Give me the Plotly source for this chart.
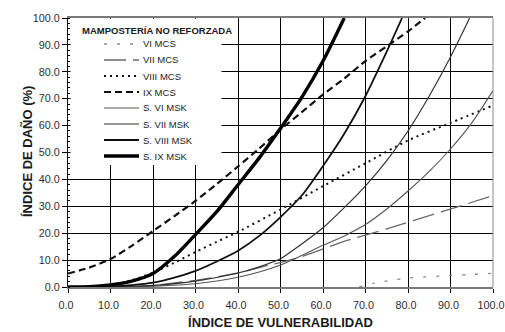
import plotly.graph_objects as go

# ---------------- data ----------------
x_ticks = [0, 10, 20, 30, 40, 50, 60, 70, 80, 90, 100]
y_ticks = [0, 10, 20, 30, 40, 50, 60, 70, 80, 90, 100]

vi_mcs_x = [68.5, 72, 76, 80, 88, 94, 100]
vi_mcs_y = [0, 1.4, 2.5, 3.3, 4.1, 4.6, 5.1]

vii_mcs_x = [15, 20, 30, 40, 45, 55, 65.6, 75, 88, 100]
vii_mcs_y = [0, 0.6, 2.5, 5.2, 7.2, 11.3, 17.3, 21.6, 28, 34]

viii_mcs_x = [7, 10, 15, 20, 25, 30, 35, 40, 50, 60, 70, 80, 90, 100]
viii_mcs_y = [0, 0.6, 2.5, 5.3, 9, 13, 16.8, 20.5, 28.8, 37.5, 46, 54.5, 61, 67.5]

ix_mcs_x = [0, 5, 10, 15, 20, 25, 30, 35, 40, 45, 50, 55, 60, 65, 70, 75, 80, 84]
ix_mcs_y = [5, 7.2, 10.4, 15.3, 20.8, 26.3, 32, 38.3, 44.8, 51.5, 58.5, 65, 71.5, 77.5, 84, 89.5, 95, 100]

s_vi_x = [10, 20, 30, 40, 50, 60, 65, 70, 75, 80, 85, 90, 95, 100]
s_vi_y = [0, 0.3, 1.2, 3.6, 8.2, 15.5, 19, 23.2, 29, 35.7, 43, 51.3, 61, 73]

s_vii_x = [10, 20, 30, 40, 45, 50, 55, 60, 65, 70, 75, 80, 85, 90, 94.5]
s_vii_y = [0, 0.6, 2.2, 5.2, 7.5, 10.5, 16, 22, 29.5, 37.6, 47, 58, 71, 85.5, 100]

s_viii_x = [5, 10, 15, 20, 25, 30, 35, 40, 45, 50, 55, 60, 65, 70, 75, 78.6]
s_viii_y = [0, 0.2, 0.7, 1.6, 3.5, 6, 9.5, 13.5, 19, 26, 34, 45, 57, 71, 87.5, 100]

s_ix_x = [0, 5, 10, 15, 20, 25, 30, 35, 40, 45, 50, 55, 60, 65]
s_ix_y = [0, 0.1, 0.8, 2.2, 5, 11.3, 19.5, 28, 38, 48, 59, 70.5, 84, 100]

series_names = ["VI MCS", "VII MCS", "VIII MCS", "IX MCS",
                "S. VI MSK", "S. VII MSK", "S. VIII MSK", "S. IX MSK"]
series_x = [vi_mcs_x, vii_mcs_x, viii_mcs_x, ix_mcs_x, s_vi_x, s_vii_x, s_viii_x, s_ix_x]
series_y = [vi_mcs_y, vii_mcs_y, viii_mcs_y, ix_mcs_y, s_vi_y, s_vii_y, s_viii_y, s_ix_y]

legend_title = "MAMPOSTERÍA NO REFORZADA"
x_title = "ÍNDICE DE VULNERABILIDAD"
y_title = "ÍNDICE DE DAÑO (%)"

# ---------------- styles ----------------
styles = {
    "VI MCS": dict(color="#8a8a8a", width=1.3, dash="3px,10px"),
    "VII MCS": dict(color="#6a6a6a", width=1.3, dash="22px,7px"),
    "VIII MCS": dict(color="#111111", width=2.0, dash="2px,4px"),
    "IX MCS": dict(color="#111111", width=2.2, dash="7px,4px"),
    "S. VI MSK": dict(color="#555555", width=1.1, dash="solid"),
    "S. VII MSK": dict(color="#333333", width=1.2, dash="solid"),
    "S. VIII MSK": dict(color="#111111", width=1.8, dash="solid"),
    "S. IX MSK": dict(color="#000000", width=3.4, dash="solid"),
}

FONT = "Liberation Sans, Arial, sans-serif"
W, H = 505, 332
ML, MR, MT, MB = 68, 12, 18, 45
PW, PH = W - ML - MR, H - MT - MB


def px_x(p):                 # page pixel -> paper x
    return (p - ML) / PW


def px_y(p):                 # page pixel -> paper y
    return (H - MB - p) / PH


fig = go.Figure()
for name, xs, ys in zip(series_names, series_x, series_y):
    st = styles[name]
    fig.add_trace(go.Scatter(
        x=xs, y=ys, mode="lines", name=name, showlegend=False,
        line=dict(color=st["color"], width=st["width"], dash=st["dash"], shape="spline", smoothing=0.7),
        hoverinfo="skip",
    ))

shapes = [
    # white legend panel hiding the grid
    dict(type="rect", xref="paper", yref="paper",
         x0=px_x(70.5), x1=px_x(221.5), y0=px_y(165), y1=px_y(18.8),
         fillcolor="white", line=dict(width=0), layer="above"),
    # right frame edge
    dict(type="line", xref="paper", yref="paper", x0=1, x1=1, y0=0, y1=1,
         line=dict(color="#8a8a8a", width=1), layer="above"),
]
annotations = [
    dict(text="<b>" + legend_title + "</b>", xref="paper", yref="paper",
         x=px_x(80), y=px_y(30), xanchor="left", yanchor="middle", showarrow=False,
         font=dict(family=FONT, size=9.5, color="#1a1a1a")),
    dict(text="<b>" + y_title + "</b>", xref="paper", yref="paper",
         x=px_x(27), y=px_y(152), xanchor="center", yanchor="middle", showarrow=False,
         textangle=-90, font=dict(family=FONT, size=13, color="#1a1a1a")),
]
for i, name in enumerate(series_names):
    st = styles[name]
    yy = px_y(44 + 16 * i)
    shapes.append(dict(type="line", xref="paper", yref="paper",
                       x0=px_x(104), x1=px_x(139), y0=yy, y1=yy,
                       line=dict(color=st["color"], width=st["width"], dash=st["dash"]),
                       layer="above"))
    annotations.append(dict(text=name, xref="paper", yref="paper",
                            x=px_x(140.5), y=yy, xanchor="left", yanchor="middle",
                            showarrow=False,
                            font=dict(family=FONT, size=9.5, color="#1a1a1a")))

fig.update_layout(
    width=W, height=H, autosize=False,
    margin=dict(l=ML, r=MR, t=MT, b=MB, pad=0, autoexpand=False),
    paper_bgcolor="white", plot_bgcolor="white",
    showlegend=False,
    shapes=shapes, annotations=annotations,
    font=dict(family=FONT, color="#333333"),
)
fig.update_xaxes(
    range=[0, 100], tickvals=x_ticks, ticktext=[f"{v:.1f}" for v in x_ticks],
    automargin=False,
    showgrid=True, gridcolor="#000000", gridwidth=1,
    showline=True, linecolor="#7a7a7a", linewidth=1.5, mirror=True,
    ticks="outside", ticklen=4, tickcolor="#000000", tickwidth=1,
    tickfont=dict(family=FONT, size=10.8, color="#2e2e2e"),
    ticklabelstandoff=3, ticklabelshift=-2, ticklabeloverflow="allow",
    zeroline=False,
    title=dict(text="<b>" + x_title + "</b>", font=dict(family=FONT, size=13, color="#1a1a1a"), standoff=8),
)
fig.update_yaxes(
    range=[0, 100], tickvals=y_ticks, ticktext=[f"{v:.1f}" for v in y_ticks],
    automargin=False,
    showgrid=True, gridcolor="#000000", gridwidth=1,
    showline=True, linecolor="#111111", linewidth=1.2,
    ticks="outside", ticklen=5, tickcolor="#000000", tickwidth=1,
    minor=dict(dtick=2, ticks="inside", ticklen=2, tickcolor="#000000", showgrid=False),
    tickfont=dict(family=FONT, size=10.8, color="#2e2e2e"),
    ticklabeloverflow="allow",
    zeroline=False,
)

fig.write_html("out.html", config={"displayModeBar": False},
               post_script="document.body.style.margin='0';document.body.style.overflow='hidden';")
